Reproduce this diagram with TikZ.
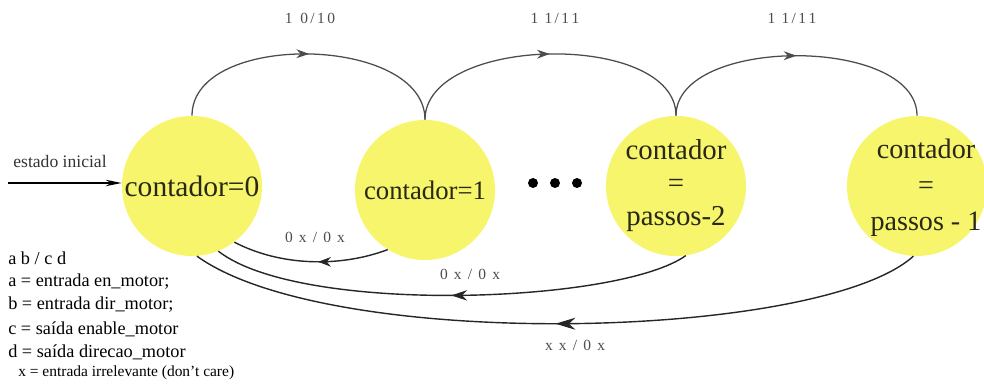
\documentclass[tikz,border=0pt]{standalone}
\usepackage{fontspec}
\setmainfont{Liberation Serif}
\newfontfamily\labelfont[LetterSpace=15]{Liberation Serif}
\usetikzlibrary{arrows.meta,decorations.markings}

\definecolor{statefill}{RGB}{246,245,108}
\definecolor{inktext}{RGB}{40,40,20}

\tikzset{
  estado/.style={circle, fill=statefill, minimum size=3.5cm, inner sep=0pt, align=center,
                 text=inktext, font=\rmfamily\fontsize{20.5}{23.5}\selectfont},
  rotulo/.style={text=black!70, font=\labelfont\fontsize{11}{13}\selectfont},
  legenda/.style={anchor=west, inner sep=0pt, font=\rmfamily\fontsize{13}{15}\selectfont},
  ponto/.style={circle, fill=black, minimum size=0.25cm, inner sep=0pt},
  midarrow/.style={postaction={decorate},
                   decoration={markings, mark=at position #1 with {\arrow{>}}}},
  arco/.style={draw=black!70, line width=0.9pt, midarrow=0.5,
               >={Stealth[length=3.2mm,width=2.2mm]}},
  volta/.style={draw=black!85, line width=1pt},
}

\begin{document}
\begin{tikzpicture}[x=0.025cm, y=-0.025cm]
\useasboundingbox (0,0) rectangle (984,385);

% estados
\node[estado, font=\rmfamily\fontsize{21}{24}\selectfont] (c0) at (192,186) {contador=0};
\node[estado, font=\rmfamily\fontsize{19}{22}\selectfont] (c1) at (425,190) {contador=1};
\node[estado] (c2) at (676,186) {contador\\=\\passos-2};
\node[estado] (c3) at (917,186) {};
\node[align=center, text=inktext, font=\rmfamily\fontsize{20}{25.5}\selectfont] (c3txt) at (926,188) {contador\\=\\passos - 1};

% reticencias
\node[ponto] (p1) at (533,183) {};
\node[ponto] (p2) at (555,183) {};
\node[ponto] (p3) at (577,183) {};

% estado inicial
\coordinate (inicio) at (8,183);
\draw[-{Stealth[length=4mm,width=1.6mm]}, line width=1pt] (inicio) -- (inicio -| c0.west);
\node[text=black!80, font=\rmfamily\fontsize{12.5}{14}\selectfont] (rotinicio) at (60,161) {estado inicial};

% transicoes para frente
\draw[arco] (c0.north) .. controls +(0,-85) and +(0,-85) .. (c1.north);
\draw[arco] (c1.north) .. controls +(0,-85) and +(0,-85) .. (c2.north);
\draw[arco] (c2.north) .. controls +(0,-80) and +(0,-80) .. (c3.north);
\node[rotulo] (l01) at (310,18) {1\enspace 0/1\,0};
\node[rotulo] (l12) at (555,18) {1 1/1\,1};
\node[rotulo] (l23) at (792,18) {1 1/1\,1};

% transicoes de volta
\draw[volta, midarrow=0.45, >={Stealth[length=3.2mm,width=2.4mm]}]
  (c1.238) .. controls +(-48,18) and +(46,24) .. (c0.307);
\draw[volta, midarrow=0.5, >={Stealth[length=4mm,width=2.6mm]}]
  (c2.278) .. controls +(-67,48) and +(82,64) .. (c0.292);
\draw[volta, midarrow=0.5, >={Stealth[length=5mm,width=3mm]}]
  (c3.267) .. controls +(-93,84) and +(133,96) .. (c0.274);
\node[rotulo] (l10) at (315,237) {0 x / 0 x};
\node[rotulo] (l20) at (470,274) {0 x / 0 x};
\node[rotulo] (l30) at (575,345) {x x / 0 x};

% legenda
\node[legenda] (leg0) at (8,258) {a b / c d};
\node[legenda] (leg1) at (8,282) {a = entrada en\_motor;};
\node[legenda] (leg2) at (8,305) {b = entrada dir\_motor;};
\node[legenda] (leg3) at (8,329) {c = saída enable\_motor};
\node[legenda] (leg4) at (8,352) {d = saída direcao\_motor};
\node[legenda, font=\rmfamily\fontsize{11}{13}\selectfont] (leg5) at (18,373) {x = entrada irrelevante (don't care)};
\end{tikzpicture}
\end{document}
